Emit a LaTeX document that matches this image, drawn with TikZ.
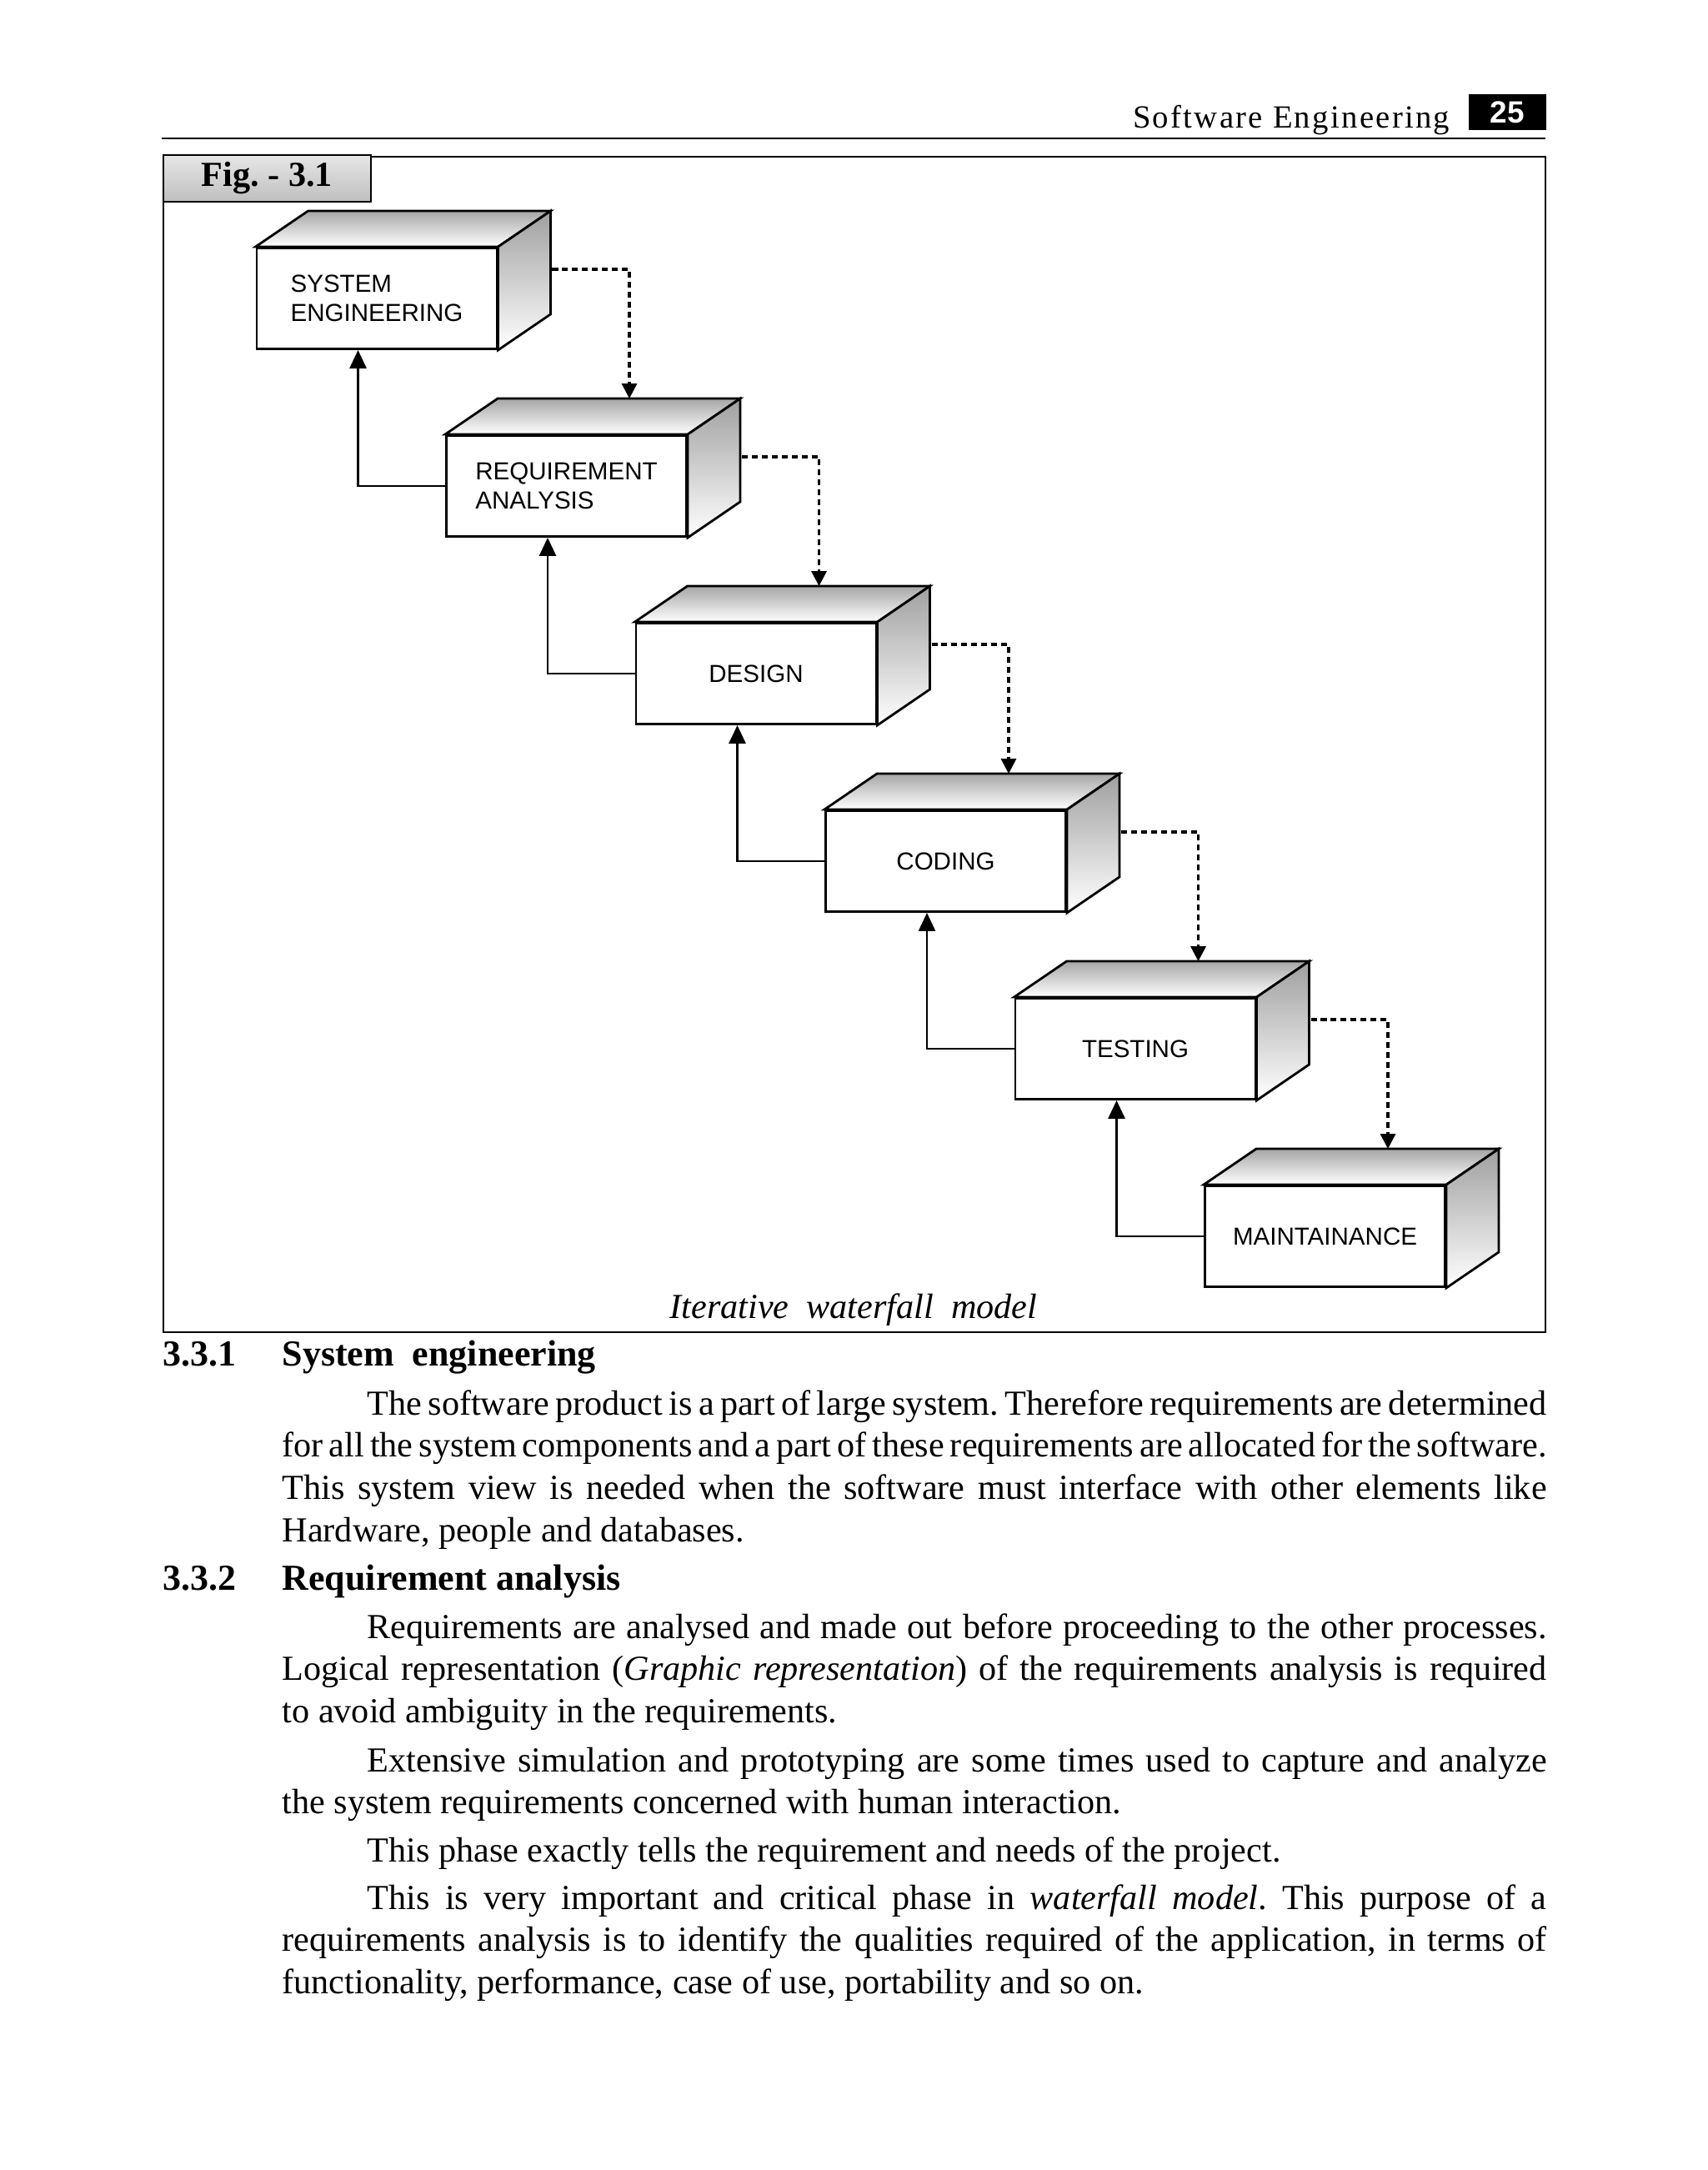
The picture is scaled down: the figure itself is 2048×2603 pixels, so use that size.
\documentclass[tikz,border=0pt]{standalone}
\usepackage{fontspec}
\setmainfont{Liberation Serif}
\newfontfamily\boxfont{Liberation Sans}
\newfontfamily\headfont[LetterSpace=6]{Liberation Serif}
\usepackage{tikz}
\usetikzlibrary{arrows.meta, calc, shadings}
\usepackage{xcolor}
\frenchspacing

\newlength\textwd \setlength\textwd{15.16cm}
\newlength\pind \setlength\pind{1.02cm}
\newcommand\tightsp{\spaceskip=3pt plus 3pt minus 2pt\relax}
\newcommand\fline[1]{\hbox to \textwd{#1}}
\newcommand\eline[1]{\hbox{#1}}

\tikzset{
  stage/.style={draw, line width=0.8pt, fill=white, minimum width=2.88cm,
    minimum height=1.21cm, inner sep=0pt, align=left,
    font=\boxfont\fontsize{8.4}{10}\selectfont},
  face/.style={draw=black, line width=0.8pt, top color=gray!70, bottom color=white},
  flow/.style={line width=0.9pt, dash pattern=on 2pt off 1.4pt,
    -{Triangle[width=1.8mm,length=1.8mm]}},
  back/.style={line width=0.8pt, -{Triangle[width=2mm,length=2.2mm]}},
  para/.style={anchor=base west, inner sep=0pt, font=\fontsize{12}{14.46}\selectfont},
  head/.style={anchor=base west, inner sep=0pt, font=\bfseries\fontsize{12.5}{15}\selectfont}
}

\begin{document}
\begin{tikzpicture}[x=0.01cm, y=-0.01cm]
  % page
  \fill[white] (0,0) rectangle (2048,2603);
  \useasboundingbox (0,0) rectangle (2048,2603);

  % running head
  \node[anchor=base east, inner sep=0pt, font=\headfont\fontsize{11}{13}\selectfont]
    (runhead) at (1740,153) {Software Engineering};
  \node[fill=black, text=white, minimum width=0.93cm, minimum height=0.43cm, inner sep=0pt,
    font=\boxfont\bfseries\fontsize{10.5}{12}\selectfont] (pgno) at (1808.5,134.5) {25};
  \draw[line width=0.8pt] (194,166) -- (1854,166);

  % figure frame and label
  \draw[line width=0.7pt] (196,188) rectangle (1854,1598);
  \node[draw, line width=0.8pt, top color=gray!20, bottom color=gray!50,
    minimum width=2.49cm, minimum height=0.56cm, inner sep=0pt,
    font=\bfseries\fontsize{12}{14}\selectfont] (figlab) at (320.5,214) {Fig. - 3.1};

  % stages
  \node[stage] (se) at (452,358) {SYSTEM\\ENGINEERING};
  \node[stage] (ra) at (679.5,583) {REQUIREMENT\\ANALYSIS};
  \node[stage] (de) at (907,808) {DESIGN};
  \node[stage] (co) at (1134.5,1033) {CODING};
  \node[stage] (te) at (1362,1258) {TESTING};
  \node[stage] (ma) at (1589.5,1483) {MAINTAINANCE};

  % top and side faces of the blocks
  \foreach \b in {se,ra,de,co,te,ma}{
    \shadedraw[face] (\b.north west) -- ++(63,-43) -- ($(\b.north east)+(63,-43)$)
      -- (\b.north east) -- cycle;
    \shadedraw[face, top color=gray!75] (\b.north east) -- ++(63,-43)
      -- ($(\b.south east)+(63,-43)$) -- (\b.south east) -- cycle;
  }

  % forward (dotted) and feedback (solid) arrows
  \foreach \a/\b in {se/ra,ra/de,de/co,co/te,te/ma}{
    \draw[flow] ($(\a.east)+(65,-35)$) -| ($(\b.north west)+(221,-43)$);
    \draw[back] (\b.west) -| ($(\a.south west)+(123,0)$);
  }

  % caption
  \node[anchor=base, inner sep=0pt, font=\itshape\fontsize{12}{14}\selectfont]
    (cap) at (1024,1581) {Iterative\ \ waterfall\ \ model};

  % 3.3.1
  \node[head] (h1n) at (195,1638) {3.3.1};
  \node[head] (h1t) at (338,1638) {System\ \ engineering};
  \node[para] (p1) at (338,1697) {\parbox[t]{\textwd}{\tightsp
    \fline{\hskip\pind The software product is a part of large system. Therefore requirements are determined}
    \fline{for all the system components and a part of these requirements are allocated for the software.}
    \fline{This system view is needed when the software must interface with other elements like}
    \eline{Hardware, people and databases.}}};

  % 3.3.2
  \node[head] (h2n) at (195,1907) {3.3.2};
  \node[head] (h2t) at (338,1907) {Requirement analysis};
  \node[para] (p2) at (338,1965) {\parbox[t]{\textwd}{\tightsp
    \fline{\hskip\pind Requirements are analysed and made out before proceeding to the other processes.}
    \fline{Logical representation (\textit{Graphic representation}) of the requirements analysis is required}
    \eline{to avoid ambiguity in the requirements.}}};
  \node[para] (p3) at (338,2125) {\parbox[t]{\textwd}{\tightsp
    \fline{\hskip\pind Extensive simulation and prototyping are some times used to capture and analyze}
    \eline{the system requirements concerned with human interaction.}}};
  \node[para] (p4) at (338,2233) {\parbox[t]{\textwd}{\tightsp
    \eline{\hskip\pind This phase exactly tells the requirement and needs of the project.}}};
  \node[para] (p5) at (338,2290) {\parbox[t]{\textwd}{\tightsp
    \fline{\hskip\pind This is very important and critical phase in \textit{waterfall model}. This purpose of a}
    \fline{requirements analysis is to identify the qualities required of the application, in terms of}
    \eline{functionality, performance, case of use, portability and so on.}}};
\end{tikzpicture}
\end{document}
